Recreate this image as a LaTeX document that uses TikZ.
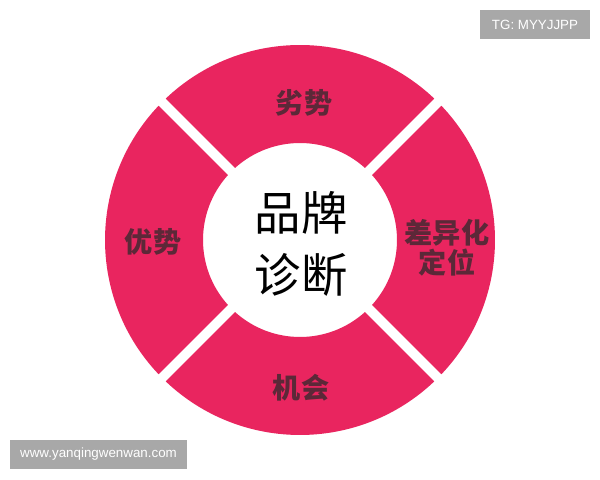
\documentclass[tikz,border=0pt]{standalone}
\usepackage{fontspec}
\setmainfont{Liberation Sans}
\newfontfamily\cjk{Noto Sans CJK SC}
\usetikzlibrary{positioning,calc}
\definecolor{ringpink}{RGB}{233,37,95}
\definecolor{labeldark}{RGB}{92,40,56}
\definecolor{markgray}{RGB}{168,168,168}

\begin{document}
\begin{tikzpicture}[x=0.025cm,y=0.025cm,
        every text node part/.style={align=center},
        segment/.style={fill=ringpink},
        seglabel/.style={text=labeldark,font=\cjk\bfseries\fontsize{20}{21}\selectfont},
        markbox/.style={fill=markgray,text=white,inner sep=0pt,font=\fontsize{9.5}{11}\selectfont}]
        \useasboundingbox[fill=white] (0,0) rectangle (600,480);
        \coordinate (centre) at (300,240);

        % four ring pieces, a gap of about 10px between them
        \foreach \a in {45,135,225,315}{
            \path[segment] ($(centre)+(\a+1.5:195)$) arc (\a+1.5:\a+88.5:195)
                -- ($(centre)+(\a+87:97)$) arc (\a+87:\a+3:97) -- cycle;
        }

        \node[font=\cjk\fontsize{33}{44}\selectfont] (diag) at (301,236) {品牌\\诊断};

        \node[seglabel] (weak) at (304,377) {劣势};
        \node[seglabel] (strong) at (153,238) {优势};
        \node[seglabel] (chance) at (301,92) {机会};
        \node[seglabel] (position) at (447,232) {差异化\\定位};

        \node[markbox,minimum width=2.75cm,minimum height=0.725cm] (tgmark) at (535,455.5) {TG: MYYJJPP};
        \node[markbox,minimum width=4.425cm,minimum height=0.725cm] (webmark) at (98.5,25.5) {www.yanqingwenwan.com};
\end{tikzpicture}
\end{document}
